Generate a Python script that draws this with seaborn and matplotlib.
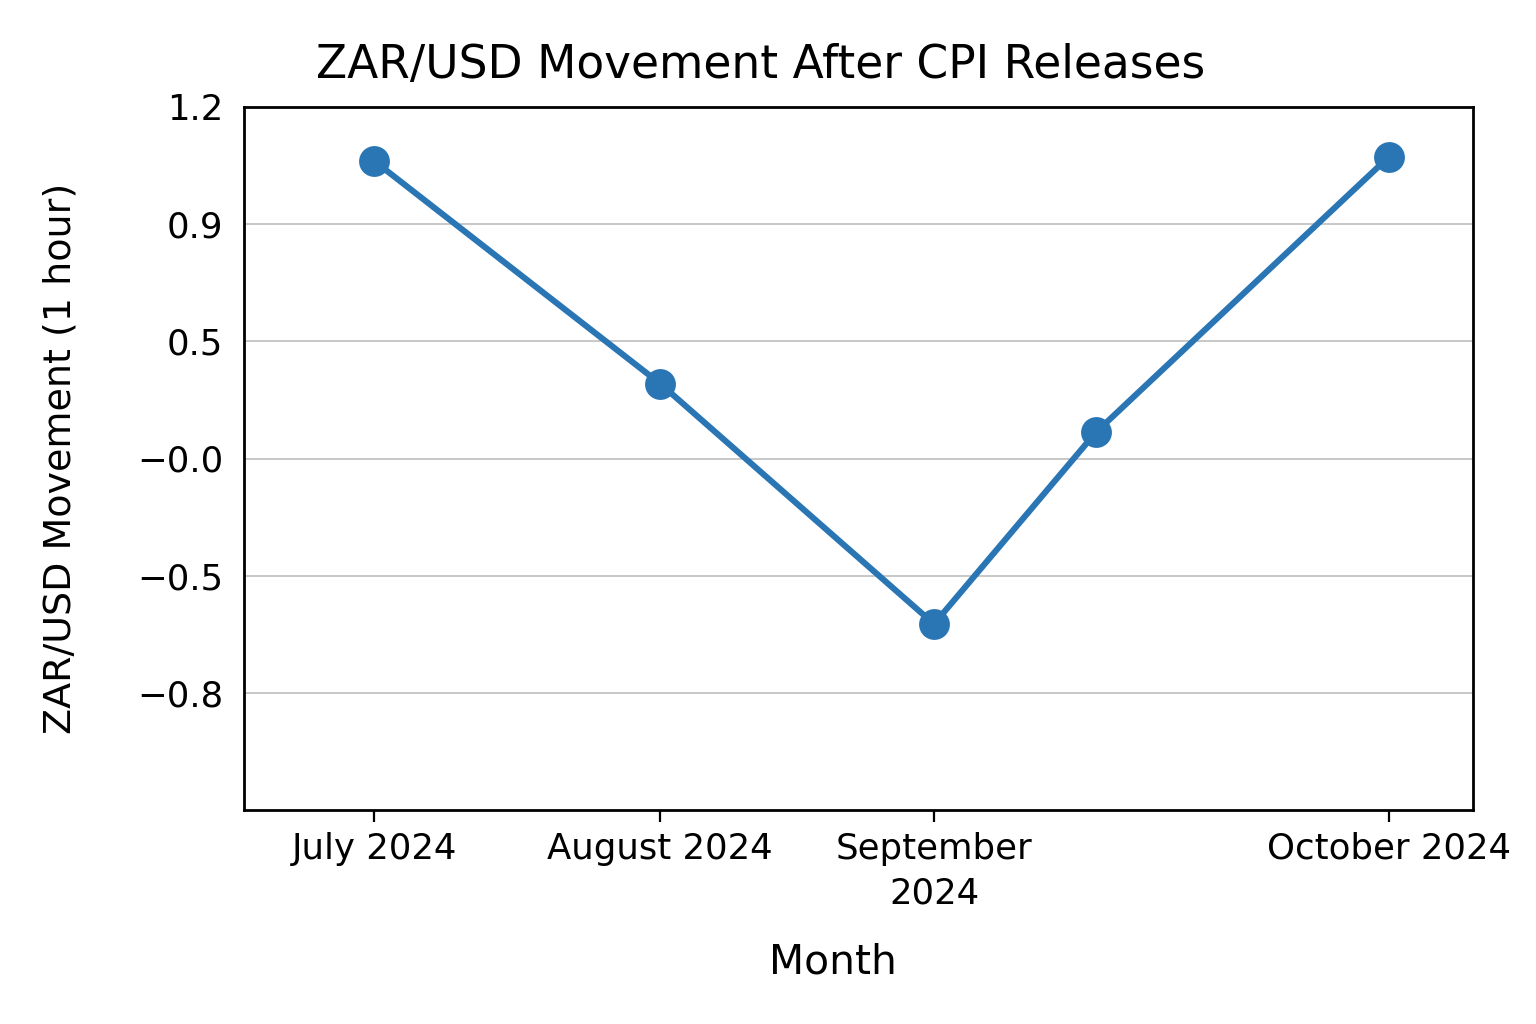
import matplotlib
matplotlib.use("Agg")
import matplotlib.pyplot as plt
import seaborn as sns
import pandas as pd

# Data (x positions in relative units, y)
x_pos = [0.0, 1.0, 1.958, 2.524, 3.549]
movement = [1.016, 0.256, -0.565, 0.089, 1.030]

tick_pos = [0.0, 1.0, 1.958, 3.549]
tick_labels = ["July 2024", "August 2024", "September\n2024", "October 2024"]

y_ticks = [1.2, 0.8, 0.4, 0.0, -0.4, -0.8]
y_tick_labels = ["1.2", "0.9", "0.5", "\u22120.0", "\u22120.5", "\u22120.8"]

df = pd.DataFrame({"x": x_pos, "y": movement})

sns.set_style("white")
plt.rcParams["font.family"] = ["DejaVu Sans"]
plt.rcParams["text.color"] = "black"
plt.rcParams["axes.labelcolor"] = "black"
plt.rcParams["xtick.color"] = "black"
plt.rcParams["ytick.color"] = "black"

fig = plt.figure(figsize=(7.68, 5.12), dpi=200)
ax = fig.add_axes([244/1536, 1-810/1024, (1473-244)/1536, (810-107)/1024])

sns.lineplot(data=df, x="x", y="y", ax=ax, color="#2a76b5", linewidth=2.2,
             marker="o", markersize=10.5, markeredgewidth=0.6,
             markeredgecolor="#2a76b5", zorder=3)

ax.set_xlim(-0.455, 3.843)
ax.set_ylim(-1.2, 1.2)
ax.set_yticks(y_ticks)
ax.set_yticklabels(y_tick_labels, fontsize=12.8)
ax.set_xticks(tick_pos)
ax.set_xticklabels(tick_labels, fontsize=12.8, linespacing=1.4)
ax.tick_params(axis="y", length=0, pad=7.5)
ax.tick_params(axis="x", length=4.3, width=0.8, pad=3.5, bottom=True, color="black")
ax.yaxis.grid(True, color="#c8c8c8", linewidth=0.7)
ax.xaxis.grid(False)
for s in ax.spines.values():
    s.set_color("black")
    s.set_linewidth(1.0)

ax.set_xlabel("Month", fontsize=14.7)
ax.xaxis.set_label_coords((833-244)/1229, -(133)/703)
ax.set_ylabel("ZAR/USD Movement (1 hour)", fontsize=13.7)
ax.yaxis.set_label_coords(-(244-79)/1229, 0.5)

fig.text(761/1536, 1-65/1024, "ZAR/USD Movement After CPI Releases",
         fontsize=16.4, ha="center", va="center")

fig.savefig("out.png", dpi=200)
